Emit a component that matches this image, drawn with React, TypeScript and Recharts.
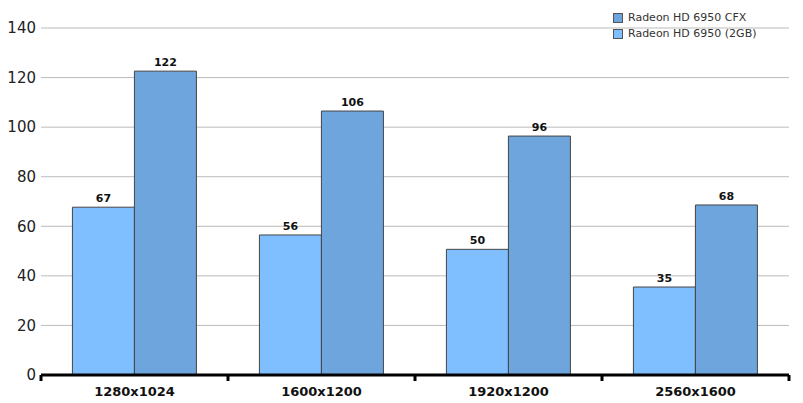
import React from 'react';
import { BarChart, Bar, XAxis, YAxis, CartesianGrid, LabelList } from 'recharts';

const categories = ['1280x1024', '1600x1200', '1920x1200', '2560x1600'];
const cfxValues = [122.6, 106.5, 96.4, 68.6];
const singleValues = [67.7, 56.5, 50.7, 35.5];
const yTicks = [0, 20, 40, 60, 80, 100, 120, 140];
const seriesNames = { cfx: 'Radeon HD 6950 CFX', single: 'Radeon HD 6950 (2GB)' };
const colors = { cfx: '#6FA5DD', single: '#80BFFF' };

const data = categories.map((c, i) => ({ name: c, single: singleValues[i], cfx: cfxValues[i] }));

const FONT = '"DejaVu Sans", Verdana, sans-serif';

const XTick = (props: any) => {
  const { x, y, payload, index, visibleTicksCount } = props;
  const off = payload.offset || 0;
  const left = x - off;
  const right = x + off;
  const ty = y - 8;
  return (
    <g>
      <line x1={left} x2={left} y1={ty} y2={ty + 6} stroke="#000" strokeWidth={3} />
      {index === visibleTicksCount - 1 && (
        <line x1={right} x2={right} y1={ty} y2={ty + 6} stroke="#000" strokeWidth={3} />
      )}
      <text x={x} y={y + 13} textAnchor="middle" fontFamily={FONT} fontSize={13} fontWeight="bold" fill="#111">
        {payload.value}
      </text>
    </g>
  );
};

const LegendBox = () => (
  <div style={{ position: 'absolute', left: 613, top: 10, fontFamily: FONT, fontSize: 11, color: '#333', lineHeight: '16px' }}>
    {(['cfx', 'single'] as const).map((k) => (
      <div key={k} style={{ display: 'flex', alignItems: 'center', whiteSpace: 'nowrap' }}>
        <span style={{ display: 'inline-block', width: 8, height: 8, background: colors[k], border: '1px solid #555', marginRight: 5 }} />
        <span>{seriesNames[k]}</span>
      </div>
    ))}
  </div>
);

export default function App() {
  return (
    <div style={{ position: 'absolute', left: 0, top: 0, width: 803, height: 403, background: '#fff' }}>
      <BarChart
        width={803}
        height={403}
        data={data}
        margin={{ top: 28, right: 14, bottom: 0, left: 0 }}
        barGap={0}
        barCategoryGap="16.8%"
      >
        <CartesianGrid vertical={false} stroke="#BBBBBB" />
        <XAxis
          dataKey="name"
          height={28}
          axisLine={{ stroke: '#000', strokeWidth: 3 }}
          tickLine={false}
          tick={<XTick />}
          interval={0}
        />
        <YAxis
          width={41}
          domain={[0, 140]}
          ticks={yTicks}
          axisLine={false}
          tickLine={false}
          tickSize={3}
          tickMargin={2}
          tick={{ fontFamily: FONT, fontSize: 15, fill: '#222' }}
        />
        <Bar dataKey="single" fill={colors.single} stroke="#444" strokeWidth={1} isAnimationActive={false}>
          <LabelList
            dataKey="single"
            position="top"
            offset={5}
            formatter={(v: any) => Math.floor(Number(v))}
            style={{ fontFamily: FONT, fontSize: 11, fontWeight: 'bold', fill: '#111' }}
          />
        </Bar>
        <Bar dataKey="cfx" fill={colors.cfx} stroke="#444" strokeWidth={1} isAnimationActive={false}>
          <LabelList
            dataKey="cfx"
            position="top"
            offset={5}
            formatter={(v: any) => Math.floor(Number(v))}
            style={{ fontFamily: FONT, fontSize: 11, fontWeight: 'bold', fill: '#111' }}
          />
        </Bar>
      </BarChart>
      <LegendBox />
    </div>
  );
}
